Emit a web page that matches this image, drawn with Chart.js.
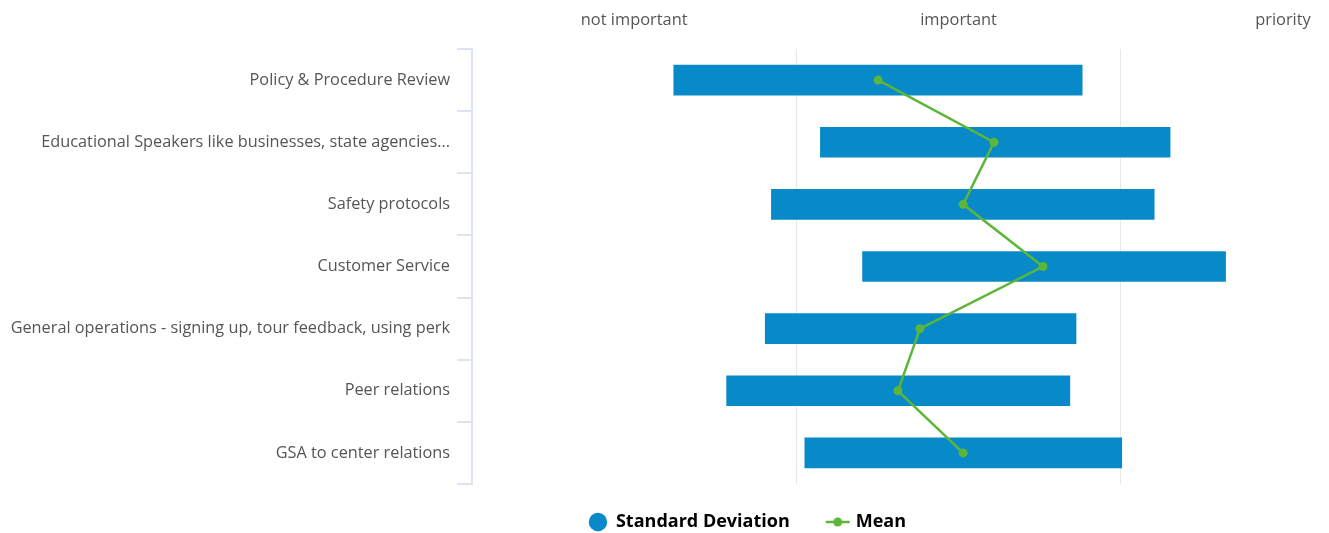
<!DOCTYPE html>
<html>
<head>
<meta charset="utf-8">
<script src="https://cdn.jsdelivr.net/npm/chart.js@4/dist/chart.umd.min.js"></script>
<style>
  html, body { margin: 0; padding: 0; background: #fff; }
  #wrap { width: 1329px; height: 533px; }
</style>
</head>
<body>
<div id="wrap"><canvas id="chart"></canvas></div>
<script>
// Categories (top to bottom)
const categories = [
  'Policy & Procedure Review',
  'Educational Speakers like businesses, state agencies...',
  'Safety protocols',
  'Customer Service',
  'General operations - signing up, tour feedback, using perk',
  'Peer relations',
  'GSA to center relations'
];

// Standard deviation range (low / high), 0 = left edge of scale
const sdLow  = [0.622, 1.074, 0.923, 1.204, 0.904, 0.785, 1.026];
const sdHigh = [1.881, 2.152, 2.103, 2.323, 1.862, 1.843, 2.003];

// Mean values
const means = [1.252, 1.609, 1.514, 1.760, 1.381, 1.313, 1.514];

// Top axis labels and their positions
const tickLabels = ['not important', 'important', 'priority'];
const tickValues = [0.5, 1.5, 2.5];
const gridValues = [1, 2];

const colors = {
  bar: '#0889c8',
  mean: '#5cb63a',
  text: '#555555',
  legend: '#333333',
  axis: '#dde4f1',
  grid: '#e8e8e8'
};

// legend symbol for the Mean series: line with a dot
function meanSymbol() {
  const c = document.createElement('canvas');
  c.width = 26; c.height = 12;
  const g = c.getContext('2d');
  g.strokeStyle = colors.mean;
  g.lineWidth = 2.5;
  g.beginPath(); g.moveTo(1, 6); g.lineTo(25, 6); g.stroke();
  g.fillStyle = colors.mean;
  g.beginPath(); g.arc(13, 6, 4.5, 0, Math.PI * 2); g.fill();
  return c;
}

// keep the legend strip compact and nudge it to where the original sits
const legendTweak = {
  id: 'legendTweak',
  beforeLayout(chart) {
    const lg = chart.legend;
    if (lg && !lg._patched) {
      const fit = lg.fit.bind(lg);
      lg.fit = function () { fit(); this.height = 49; };
      lg._patched = true;
    }
  },
  afterLayout(chart) {
    const lg = chart.legend;
    lg.top -= 10;
    lg.bottom = chart.height;
    lg.left += 83; lg.right += 83;
  }
};

const sdData = sdLow.map((lo, i) => [lo, sdHigh[i]]);
const scaleMax = 2.628;
const noPad = s => { s.paddingLeft = 0; s.paddingRight = 0; };

new Chart(document.getElementById('chart'), {
  type: 'bar',
  plugins: [legendTweak],
  data: {
    labels: categories,
    datasets: [
      {
        label: 'Mean',
        type: 'line',
        indexAxis: 'y',
        data: means,
        borderColor: colors.mean,
        backgroundColor: colors.mean,
        borderWidth: 2.5,
        pointRadius: 4.5,
        pointBackgroundColor: colors.mean,
        pointBorderWidth: 0,
        tension: 0,
        order: 0
      },
      {
        label: 'Standard Deviation',
        data: sdData,
        backgroundColor: colors.bar,
        borderWidth: 0,
        barThickness: 30,
        order: 1
      }
    ]
  },
  options: {
    indexAxis: 'y',
    responsive: true,
    maintainAspectRatio: false,
    animation: false,
    layout: { padding: 0 },
    plugins: {
      tooltip: { enabled: false },
      legend: {
        position: 'bottom',
        labels: {
          usePointStyle: true,
          boxWidth: 18,
          boxHeight: 13,
          padding: 39,
          color: colors.legend,
          font: { family: 'Open Sans', size: 18, weight: 'bold' },
          generateLabels() {
            return [
              { text: 'Standard Deviation', pointStyle: 'circle', fillStyle: colors.bar, strokeStyle: colors.bar, lineWidth: 0, datasetIndex: 1 },
              { text: 'Mean', pointStyle: meanSymbol(), fillStyle: colors.mean, strokeStyle: colors.mean, lineWidth: 0, datasetIndex: 0 }
            ];
          }
        }
      }
    },
    scales: {
      x: {
        type: 'linear',
        position: 'top',
        min: 0,
        max: scaleMax,
        afterBuildTicks: s => { s.ticks = tickValues.map(v => ({ value: v })); },
        afterFit: s => { s.height = 49; noPad(s); },
        ticks: {
          color: colors.text,
          font: { family: 'Open Sans', size: 16.4 },
          padding: 11,
          callback: (v) => tickLabels[tickValues.indexOf(v)]
        },
        grid: { display: false },
        border: { display: false }
      },
      x2: {
        type: 'linear',
        position: 'bottom',
        min: 0,
        max: scaleMax,
        afterBuildTicks: s => { s.ticks = gridValues.map(v => ({ value: v })); },
        afterFit: s => { s.height = 0; noPad(s); },
        ticks: { display: false },
        grid: { color: colors.grid, drawTicks: false },
        border: { display: false }
      },
      y: {
        afterFit: s => { s.width = 472; },
        ticks: {
          color: colors.text,
          font: { family: 'Open Sans', size: 16.3 },
          padding: 7
        },
        grid: {
          drawOnChartArea: false,
          drawTicks: true,
          tickLength: 15,
          color: colors.axis,
          lineWidth: 2,
          offset: true
        },
        border: { display: true, color: colors.axis, width: 2 }
      }
    }
  }
});
</script>
</body>
</html>
